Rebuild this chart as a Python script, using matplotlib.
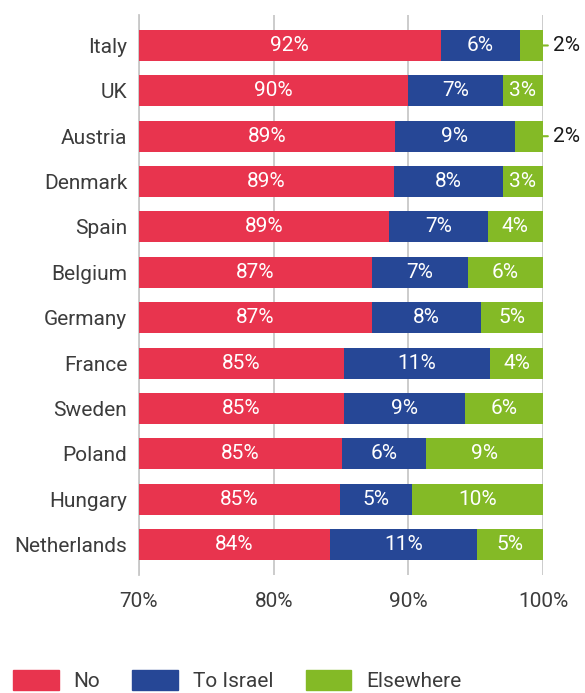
import matplotlib
matplotlib.use("Agg")
import matplotlib.pyplot as plt
from matplotlib.patches import Patch

countries = ["Italy", "UK", "Austria", "Denmark", "Spain", "Belgium", "Germany",
             "France", "Sweden", "Poland", "Hungary", "Netherlands"]
no_vals = [92.4, 90.0, 89.0, 88.9, 88.6, 87.3, 87.3, 85.2, 85.2, 85.1, 84.9, 84.2]
israel_vals = [5.9, 7.0, 8.9, 8.1, 7.3, 7.1, 8.1, 10.9, 9.0, 6.2, 5.4, 10.9]
elsewhere_vals = [1.7, 3.0, 2.1, 3.0, 4.1, 5.6, 4.6, 3.9, 5.8, 8.7, 9.7, 4.9]
no_labels = ["92%", "90%", "89%", "89%", "89%", "87%", "87%", "85%", "85%", "85%", "85%", "84%"]
israel_labels = ["6%", "7%", "9%", "8%", "7%", "7%", "8%", "11%", "9%", "6%", "5%", "11%"]
elsewhere_labels = ["2%", "3%", "2%", "3%", "4%", "6%", "5%", "4%", "6%", "9%", "10%", "5%"]
series_names = ["No", "To Israel", "Elsewhere"]
xticks = [70, 80, 90, 100]
xtick_labels = ["70%", "80%", "90%", "100%"]

RED = "#E8344E"
BLUE = "#264796"
GREEN = "#84BA26"
GRID = "#C8C8C8"
TXT = "#3C3C3C"

plt.rcParams['font.family'] = ['Roboto', 'DejaVu Sans']

fig = plt.figure(figsize=(5.85, 6.93), dpi=100)
ax = fig.add_axes([139/585, (693-575)/693, (543-139)/585, (575-15)/693])

base = 70
y = list(range(len(countries)))
h = 0.683
left_no = [base] * len(countries)
w_no = [v - base for v in no_vals]
ax.barh(y, w_no, left=left_no, height=h, color=RED, zorder=3)
ax.barh(y, israel_vals, left=no_vals, height=h, color=BLUE, zorder=3)
left_else = [a + b for a, b in zip(no_vals, israel_vals)]
ax.barh(y, elsewhere_vals, left=left_else, height=h, color=GREEN, zorder=3)

fs = 15
for i in y:
    ax.text((base + no_vals[i]) / 2, i, no_labels[i], ha='center', va='center',
            color='white', fontsize=fs, zorder=4)
    ax.text(no_vals[i] + israel_vals[i] / 2, i, israel_labels[i], ha='center', va='center',
            color='white', fontsize=fs, zorder=4)
    if elsewhere_vals[i] >= 2.5:
        ax.text(left_else[i] + elsewhere_vals[i] / 2, i, elsewhere_labels[i], ha='center',
                va='center', color='white', fontsize=fs, zorder=4)
    else:
        ax.annotate(elsewhere_labels[i], xy=(100, i), xycoords='data',
                    xytext=(7, 0), textcoords='offset points', ha='left', va='center',
                    color='#1A1A1A', fontsize=fs,
                    arrowprops=dict(arrowstyle='-', color=GREEN, lw=1.5,
                                    shrinkA=1.5, shrinkB=0), annotation_clip=False)

ax.set_xlim(70, 100)
ax.set_ylim(11.672, -0.672)
ax.set_yticks(y)
ax.set_yticklabels(countries)
ax.set_xticks(xticks)
ax.set_xticklabels(xtick_labels)
ax.tick_params(axis='both', length=0, labelsize=fs, labelcolor=TXT)
ax.tick_params(axis='y', pad=8.5)
ax.tick_params(axis='x', pad=12)
ax.grid(axis='x', color=GRID, lw=1.3, zorder=0)
ax.grid(axis='y', visible=False)
for s in ['top', 'right', 'bottom']:
    ax.spines[s].set_visible(False)
ax.spines['left'].set_color(GRID)
ax.spines['left'].set_linewidth(1.3)
ax.set_axisbelow(True)

handles = [Patch(color=RED), Patch(color=BLUE), Patch(color=GREEN)]
leg = fig.legend(handles, series_names, loc='upper left', bbox_to_anchor=(13/585, 1 - 670/693),
                 ncol=3, frameon=False, fontsize=fs, handlelength=2.2, handleheight=1.1,
                 handletextpad=0.7, columnspacing=1.55, borderpad=0, borderaxespad=0)
for t in leg.get_texts():
    t.set_color(TXT)

fig.savefig("out.png", dpi=100)
